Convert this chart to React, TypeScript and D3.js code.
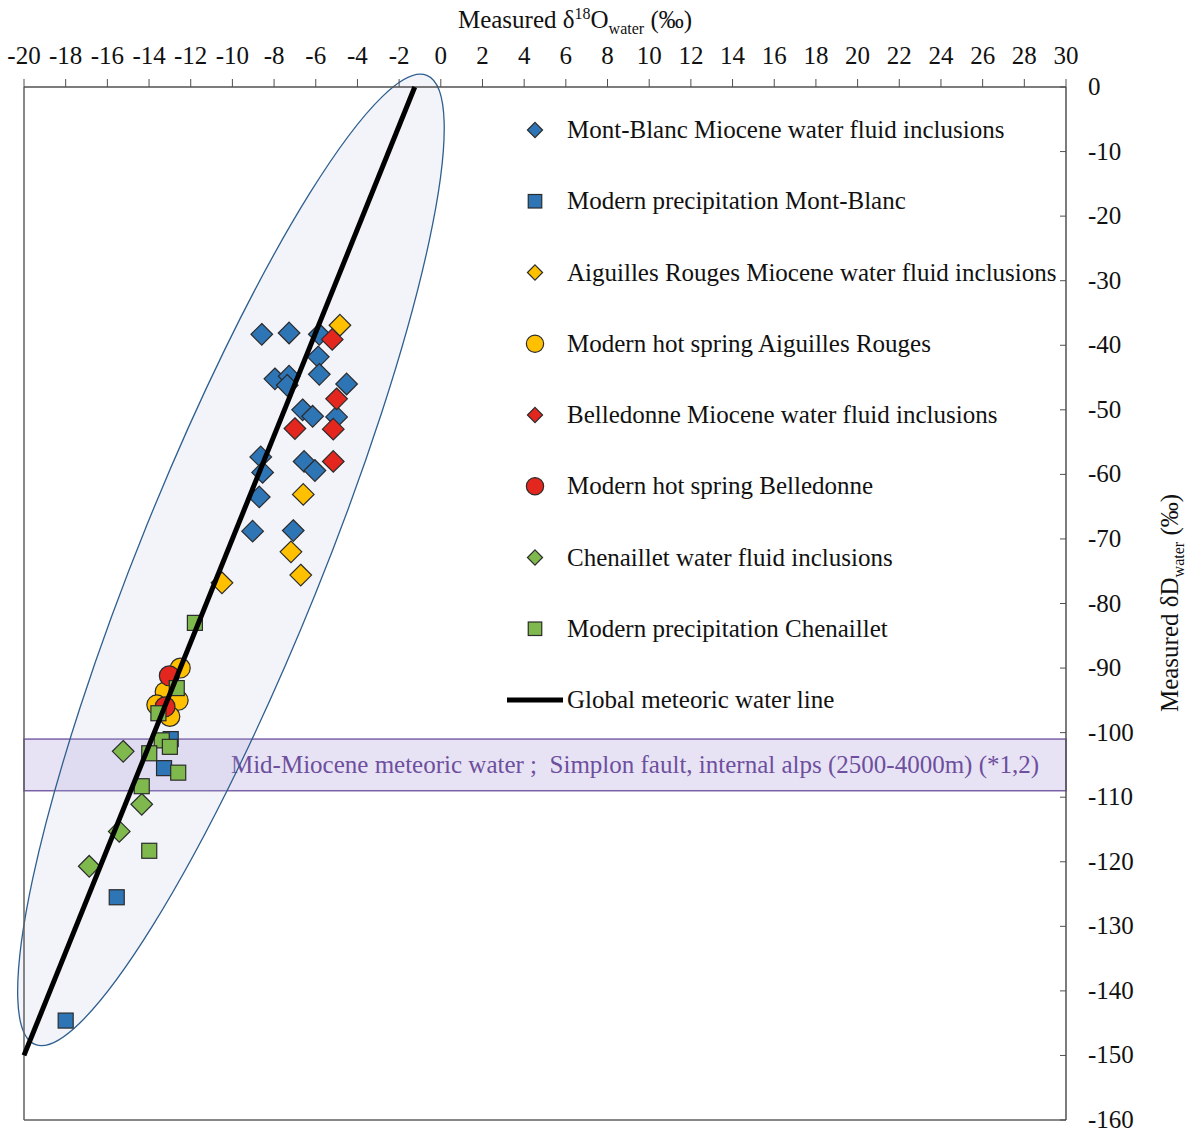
import React from "react";
import * as d3 from "d3";

// ---------- data ----------
const xTicks = [-20, -18, -16, -14, -12, -10, -8, -6, -4, -2, 0, 2, 4, 6, 8, 10, 12, 14, 16, 18, 20, 22, 24, 26, 28, 30];
const yTicks = [0, -10, -20, -30, -40, -50, -60, -70, -80, -90, -100, -110, -120, -130, -140, -150, -160];

// [δ18O, δD]
const montBlancFI: [number, number][] = [
  [-8.59, -38.3], [-7.28, -38.1], [-5.83, -38.3], [-5.88, -41.8], [-7.96, -45.2],
  [-7.28, -44.8], [-7.37, -46.2], [-5.83, -44.5], [-4.52, -46.0], [-6.63, -50.0],
  [-6.15, -51.0], [-5.0, -51.1], [-8.64, -57.3], [-8.55, -59.7], [-6.56, -58.0],
  [-6.04, -59.4], [-8.71, -63.5], [-9.03, -68.8], [-7.08, -68.7],
];
const montBlancPrecip: [number, number][] = [
  [-12.96, -101.0], [-13.28, -105.5], [-15.55, -125.5], [-18.0, -144.6],
];
const aiguillesFI: [number, number][] = [
  [-4.84, -36.9], [-6.6, -63.1], [-7.19, -72.0], [-6.72, -75.6], [-10.5, -76.8],
];
const aiguillesSpring: [number, number][] = [
  [-12.5, -90.0], [-13.23, -93.7], [-12.6, -95.0], [-13.63, -95.7], [-13.0, -97.5],
];
const belledonneFI: [number, number][] = [
  [-5.21, -39.1], [-5.0, -48.3], [-7.0, -52.9], [-5.16, -53.0], [-5.16, -58.0],
];
const belledonneSpring: [number, number][] = [
  [-13.03, -91.2], [-13.23, -96.0],
];
const chenailletFI: [number, number][] = [
  [-15.24, -102.9], [-14.35, -111.1], [-15.43, -115.3], [-16.87, -120.7],
];
const chenailletPrecip: [number, number][] = [
  [-11.8, -83.0], [-12.67, -93.1], [-13.55, -97.0], [-13.39, -101.2], [-13.0, -102.2],
  [-13.99, -103.2], [-12.6, -106.2], [-14.35, -108.3], [-13.99, -118.3],
];

type Shape = "diamond" | "square" | "circle";
const seriesNames = [
  "Mont-Blanc Miocene water fluid inclusions",
  "Modern precipitation Mont-Blanc",
  "Aiguilles Rouges Miocene water fluid inclusions",
  "Modern hot spring Aiguilles Rouges",
  "Belledonne Miocene water fluid inclusions",
  "Modern hot spring Belledonne",
  "Chenaillet water fluid inclusions",
  "Modern precipitation Chenaillet",
];
const seriesData = [montBlancFI, montBlancPrecip, aiguillesFI, aiguillesSpring, belledonneFI, belledonneSpring, chenailletFI, chenailletPrecip];
const seriesShapes: Shape[] = ["diamond", "square", "diamond", "circle", "diamond", "circle", "diamond", "square"];
const seriesColors = ["#2e75b6", "#2e75b6", "#ffc000", "#ffc000", "#e3261e", "#e3261e", "#7fb94e", "#7fb94e"];

// GMWL: δD = 8 δ18O + 10
const gmwlX = [-20, -1.25];
// ellipse tips (data units) and band
const ellipseTips: [number, number][] = [[-0.67, 1.8], [-19.47, -148.3]];
const bandRange = [-101, -109];
const bandLabel = "Mid-Miocene meteoric water ;  Simplon fault, internal alps (2500-4000m) (*1,2)";

// ---------- layout ----------
const W = 1189, H = 1133;
const x = d3.scaleLinear().domain([-20, 30]).range([24, 1066]);
const y = d3.scaleLinear().domain([-160, 0]).range([1120, 87]);
const FONT = "'Liberation Serif', 'Times New Roman', serif";
const FS = 25;

function marker(shape: Shape, cx: number, cy: number, color: string, s: number, key: string | number) {
  const stroke = "#2b2b2b";
  if (shape === "circle") return <circle key={key} cx={cx} cy={cy} r={s * 0.64} fill={color} stroke={stroke} strokeWidth={1.2} />;
  if (shape === "square") return <rect key={key} x={cx - s / 2} y={cy - s / 2} width={s} height={s} fill={color} stroke={stroke} strokeWidth={1.2} />;
  const h = s * 0.72;
  const path = d3.path();
  path.moveTo(cx, cy - h); path.lineTo(cx + h, cy); path.lineTo(cx, cy + h); path.lineTo(cx - h, cy); path.closePath();
  return <path key={key} d={path.toString()} fill={color} stroke={stroke} strokeWidth={1.2} />;
}

export default function App() {
  const [t1, t2] = ellipseTips.map(([a, b]) => [x(a), y(b)]);
  const ecx = (t1[0] + t2[0]) / 2, ecy = (t1[1] + t2[1]) / 2;
  const ea = Math.hypot(t1[0] - t2[0], t1[1] - t2[1]) / 2;
  const eang = (Math.atan2(t1[1] - t2[1], t1[0] - t2[0]) * 180) / Math.PI;
  const eb = 91;

  const line = d3.line<number>().x((d) => x(d)).y((d) => y(8 * d + 10));
  const legendY = (i: number) => 130 + i * 71.25;
  const sizeFor = (s: Shape) => (s === "circle" ? 15.5 : s === "square" ? 15 : 15);

  return (
    <svg width={W} height={H} style={{ position: "absolute", left: 0, top: 0, background: "#fff" }} fontFamily={FONT}>
      <rect x={0} y={0} width={W} height={H} fill="#fff" />
      {/* band */}
      <rect x={x(-20)} y={y(bandRange[0])} width={x(30) - x(-20)} height={y(bandRange[1]) - y(bandRange[0])} fill="#e8e3f4" stroke="#7b62a8" strokeWidth={1.5} />
      <text x={635} y={y((bandRange[0] + bandRange[1]) / 2) + 8} textAnchor="middle" fontSize={FS} fill="#6d4f9e" style={{ whiteSpace: "pre" }}>{bandLabel}</text>
      {/* ellipse */}
      <ellipse cx={ecx} cy={ecy} rx={ea} ry={eb} transform={`rotate(${eang} ${ecx} ${ecy})`} fill="rgba(175,190,225,0.17)" stroke="#2f5f8f" strokeWidth={1.3} />
      {/* frame */}
      <line x1={x(-20)} x2={x(-20)} y1={y(0)} y2={y(-160)} stroke="#606060" strokeWidth={1.5} />
      <line x1={x(-20)} x2={x(30)} y1={y(-160)} y2={y(-160)} stroke="#606060" strokeWidth={1.5} />
      <line x1={x(-20)} x2={x(30)} y1={y(0)} y2={y(0)} stroke="#505050" strokeWidth={1.5} />
      <line x1={x(30)} x2={x(30)} y1={y(0)} y2={y(-160)} stroke="#505050" strokeWidth={1.5} />
      {xTicks.map((t) => (
        <g key={"xt" + t}>
          <line x1={x(t)} x2={x(t)} y1={y(0)} y2={y(0) - 8} stroke="#505050" strokeWidth={1} />
          <text x={x(t)} y={64} textAnchor="middle" fontSize={FS} fill="#111">{t}</text>
        </g>
      ))}
      {yTicks.map((t) => (
        <g key={"yt" + t}>
          <line x1={x(30) - 6} x2={x(30)} y1={y(t)} y2={y(t)} stroke="#505050" strokeWidth={1} />
          <text x={1088} y={y(t) + 8} textAnchor="start" fontSize={FS} fill="#111">{t}</text>
        </g>
      ))}
      {/* titles */}
      <text x={575} y={28} textAnchor="middle" fontSize={FS} fill="#111">
        Measured δ<tspan fontSize={16} dy={-9}>18</tspan><tspan dy={9}>O</tspan><tspan fontSize={16} dy={6}>water</tspan><tspan dy={-6}> (‰)</tspan>
      </text>
      <text transform={`translate(1178, 603) rotate(-90)`} textAnchor="middle" fontSize={FS} fill="#111">
        Measured δD<tspan fontSize={16} dy={6}>water</tspan><tspan dy={-6}> (‰)</tspan>
      </text>
      {/* points */}
      {seriesData.map((data, si) => (
        <g key={"s" + si}>
          {data.map((d, i) => marker(seriesShapes[si], x(d[0]), y(d[1]), seriesColors[si], sizeFor(seriesShapes[si]), i))}
        </g>
      ))}
      {/* GMWL */}
      <path d={line(gmwlX) || ""} stroke="#000" strokeWidth={5} fill="none" />
      {/* legend */}
      {seriesNames.map((n, i) => (
        <g key={"lg" + i}>
          {marker(seriesShapes[i], 535, legendY(i), seriesColors[i], seriesShapes[i] === "diamond" ? 10.5 : 13.5, "m")}
          <text x={567} y={legendY(i) + 8} fontSize={FS} fill="#111">{n}</text>
        </g>
      ))}
      <line x1={507} x2={563} y1={legendY(8)} y2={legendY(8)} stroke="#000" strokeWidth={5} />
      <text x={567} y={legendY(8) + 8} fontSize={FS} fill="#111">Global meteoric water line</text>
    </svg>
  );
}
